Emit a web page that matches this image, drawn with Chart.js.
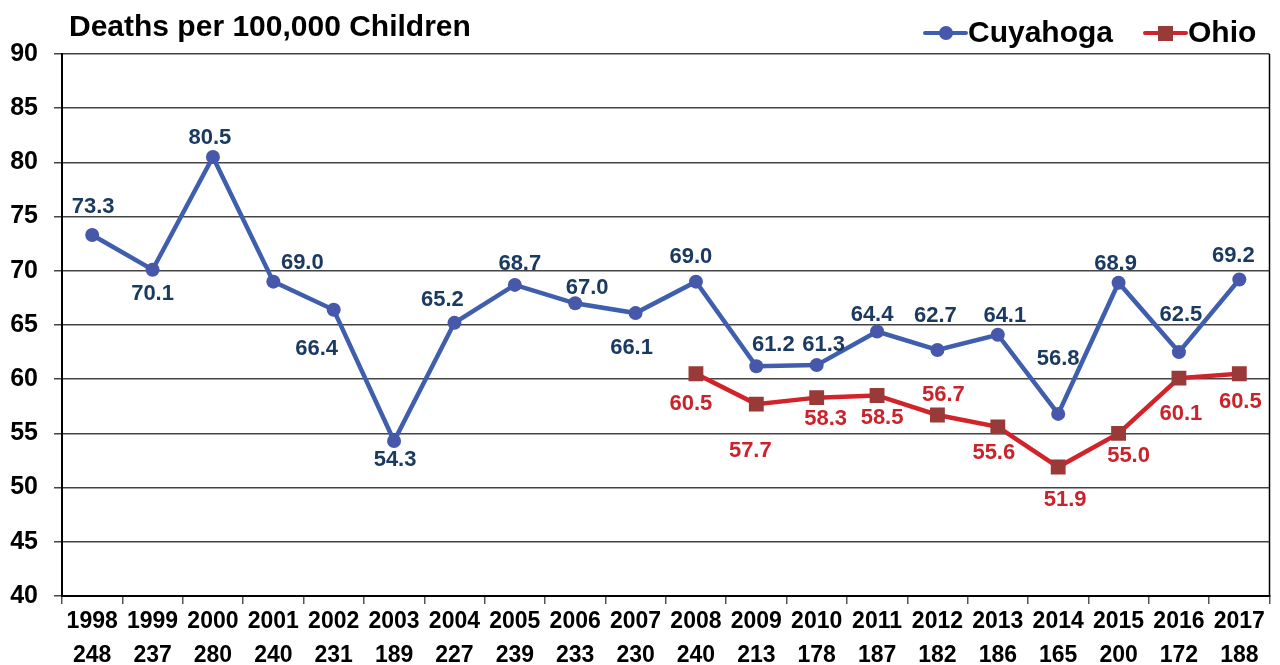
<!DOCTYPE html>
<html>
<head>
<meta charset="utf-8">
<script src="https://cdn.jsdelivr.net/npm/chart.js@4.4.1/dist/chart.umd.min.js"></script>
<style>
  html, body { margin: 0; padding: 0; background: #fff; }
  #wrap { position: relative; width: 1280px; height: 665px; }
</style>
</head>
<body>
<div id="wrap"><canvas id="chart"></canvas></div>
<script>
// data
const years = ['1998', '1999', '2000', '2001', '2002', '2003', '2004', '2005', '2006', '2007',
               '2008', '2009', '2010', '2011', '2012', '2013', '2014', '2015', '2016', '2017'];
const deathCounts = ['248', '237', '280', '240', '231', '189', '227', '239', '233', '230',
                     '240', '213', '178', '187', '182', '186', '165', '200', '172', '188'];
const cuyahoga = [73.3, 70.1, 80.5, 69.0, 66.4, 54.3, 65.2, 68.7, 67.0, 66.1,
                  69.0, 61.2, 61.3, 64.4, 62.7, 64.1, 56.8, 68.9, 62.5, 69.2];
const ohio = [null, null, null, null, null, null, null, null, null, null,
              60.5, 57.7, 58.3, 58.5, 56.7, 55.6, 51.9, 55.0, 60.1, 60.5];
const yTicks = [40, 45, 50, 55, 60, 65, 70, 75, 80, 85, 90];

// where each value label sits relative to its point (dx, dy in px)
const cuyLabelOffsets = [[1, -28], [0, 24], [-3, -19], [29, -19], [-17, 39], [1, 19], [-12, -23], [5, -21], [12, -15], [-4, 35],
                         [-5, -25], [17, -21], [7, -20], [-5, -17], [-2, -34], [7, -19], [0, -55], [-3, -19], [2, -37], [-6, -24]];
const ohioLabelOffsets = [null, null, null, null, null, null, null, null, null, null,
                          [-5, 30], [-6, 47], [9, 21], [5, 22], [6, -20], [-4, 26], [7, 33], [10, 23], [2, 36], [1, 28]];

const FONT = '"Liberation Sans", Arial, sans-serif';
const BLUE_LINE = '#3F5EAE';
const BLUE_POINT = '#4757AA';
const BLUE_TEXT = '#1B3A62';
const RED_LINE = '#D2222A';
const RED_POINT = '#9A3A38';
const RED_TEXT = '#C9232B';

const valueLabels = {
    id: 'valueLabels',
    afterDatasetsDraw(chart) {
        const ctx = chart.ctx;
        ctx.save();
        ctx.font = 'bold 22px ' + FONT;
        ctx.textAlign = 'center';
        ctx.textBaseline = 'middle';
        chart.data.datasets.forEach((ds, i) => {
            const meta = chart.getDatasetMeta(i);
            ctx.fillStyle = ds.labelColor;
            meta.data.forEach((pt, j) => {
                const v = ds.data[j];
                const off = ds.labelOffsets[j];
                if (v === null || !off) return;
                ctx.fillText(v.toFixed(1), pt.x + off[0], pt.y + off[1]);
            });
        });
        ctx.restore();
    }
};

const frameAndHeader = {
    id: 'frameAndHeader',
    afterDraw(chart) {
        const ctx = chart.ctx;
        const a = chart.chartArea;
        ctx.save();
        // right edge of plot frame
        ctx.strokeStyle = '#000';
        ctx.lineWidth = 1.5;
        ctx.beginPath();
        ctx.moveTo(a.right, a.top);
        ctx.lineTo(a.right, a.bottom);
        ctx.stroke();

        // title
        ctx.fillStyle = '#000';
        ctx.textBaseline = 'middle';
        ctx.textAlign = 'left';
        ctx.font = 'bold 30px ' + FONT;
        ctx.fillText('Deaths per 100,000 Children', 69, 28);

        // legend
        const items = [
            { label: chart.data.datasets[0].label, x: 925, line: BLUE_LINE, fill: BLUE_POINT, shape: 'circle' },
            { label: chart.data.datasets[1].label, x: 1145, line: RED_LINE, fill: RED_POINT, shape: 'rect' }
        ];
        items.forEach(it => {
            const y = 33;
            ctx.strokeStyle = it.line;
            ctx.lineWidth = 4;
            ctx.lineCap = 'round';
            ctx.beginPath();
            ctx.moveTo(it.x, y);
            ctx.lineTo(it.x + 41, y);
            ctx.stroke();
            ctx.fillStyle = it.fill;
            if (it.shape === 'circle') {
                ctx.beginPath();
                ctx.arc(it.x + 21, y, 7, 0, Math.PI * 2);
                ctx.fill();
            } else {
                ctx.fillRect(it.x + 13, y - 7, 15, 15);
            }
            ctx.fillStyle = '#000';
            ctx.fillText(it.label, it.x + 43, y + 1);
        });
        ctx.restore();
    }
};

new Chart(document.getElementById('chart'), {
    type: 'line',
    data: {
        labels: years.map((y, i) => [y, deathCounts[i]]),
        datasets: [
            {
                label: 'Cuyahoga',
                data: cuyahoga,
                borderColor: BLUE_LINE,
                backgroundColor: BLUE_POINT,
                borderWidth: 4.5,
                pointRadius: 7,
                pointStyle: 'circle',
                pointBorderWidth: 0,
                tension: 0,
                labelColor: BLUE_TEXT,
                labelOffsets: cuyLabelOffsets
            },
            {
                label: 'Ohio',
                data: ohio,
                borderColor: RED_LINE,
                backgroundColor: RED_POINT,
                borderWidth: 4.5,
                pointRadius: 10.5,
                pointStyle: 'rect',
                pointBorderWidth: 0,
                tension: 0,
                labelColor: RED_TEXT,
                labelOffsets: ohioLabelOffsets
            }
        ]
    },
    options: {
        responsive: true,
        maintainAspectRatio: false,
        animation: false,
        layout: { padding: { top: 54, right: 8, left: 0, bottom: 0 } },
        plugins: { legend: { display: false }, tooltip: { enabled: false } },
        scales: {
            x: {
                offset: true,
                grid: { offset: true, drawOnChartArea: false, tickLength: 8, color: '#555', lineWidth: 1.5 },
                border: { display: true, color: '#000', width: 2 },
                ticks: {
                    autoSkip: false,
                    maxRotation: 0,
                    padding: 0,
                    color: '#000',
                    font: { family: FONT, size: 23, weight: 'bold', lineHeight: 1.5 }
                },
                afterFit(scale) { scale.height = 69; }
            },
            y: {
                min: 40,
                max: 90,
                afterBuildTicks(scale) { scale.ticks = yTicks.map(v => ({ value: v })); },
                grid: { color: '#444', lineWidth: 1.5, tickLength: 8 },
                border: { display: true, color: '#000', width: 2 },
                ticks: {
                    padding: 16,
                    color: '#000',
                    font: { family: FONT, size: 25, weight: 'bold' }
                },
                afterFit(scale) { scale.width = 62; }
            }
        }
    },
    plugins: [valueLabels, frameAndHeader]
});
</script>
</body>
</html>
